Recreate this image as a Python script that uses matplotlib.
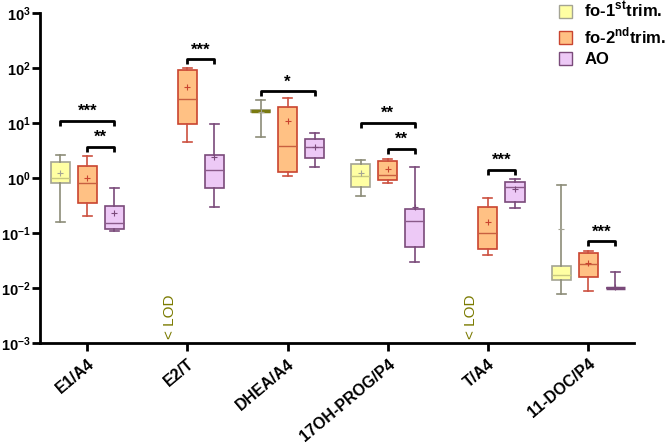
import matplotlib
matplotlib.use("Agg")
import matplotlib.pyplot as plt
from matplotlib.patches import Patch

plt.rcParams['font.family'] = ['Liberation Sans', 'DejaVu Sans']
plt.rcParams['mathtext.fontset'] = 'custom'
plt.rcParams['mathtext.rm'] = 'Liberation Sans'
plt.rcParams['mathtext.bf'] = 'Liberation Sans:bold'

categories = ['E1/A4', 'E2/T', 'DHEA/A4', '17OH-PROG/P4', 'T/A4', '11-DOC/P4']
group_labels = [r'fo-1$^{\mathbf{st}}$trim.', r'fo-2$^{\mathbf{nd}}$trim.', 'AO']

# (whislo, q1, med, q3, whishi, mean)
fo1 = [
    (0.16, 0.81, 1.0, 1.95, 2.6, 1.23),
    None,
    (5.6, 16.0, 16.5, 17.0, 26.0, 16.0),
    (0.47, 0.69, 1.1, 1.8, 2.1, 1.23),
    None,
    (0.0078, 0.014, 0.017, 0.025, 0.74, 0.12),
]
fo2 = [
    (0.20, 0.35, 0.81, 1.65, 2.5, 1.0),
    (4.5, 9.6, 27.0, 92.0, 100.0, 45.0),
    (1.1, 1.3, 3.8, 19.5, 28.0, 11.0),
    (0.81, 0.93, 1.13, 2.0, 2.2, 1.45),
    (0.04, 0.051, 0.10, 0.30, 0.43, 0.16),
    (0.0089, 0.016, 0.027, 0.043, 0.047, 0.029),
]
ao = [
    (0.11, 0.12, 0.15, 0.31, 0.65, 0.23),
    (0.30, 0.66, 1.4, 2.6, 9.6, 2.4),
    (1.6, 2.3, 3.7, 5.1, 6.6, 3.7),
    (0.030, 0.056, 0.166, 0.27, 1.6, 0.30),
    (0.28, 0.36, 0.68, 0.85, 0.96, 0.63),
    (0.010, 0.010, 0.010, 0.010, 0.0195, 0.0105),
]

# (category, group from, group to, bracket level, label)
significance = [
    (0, 0, 2, 11.0, '***'),
    (0, 1, 2, 3.7, '**'),
    (1, 1, 2, 145.0, '***'),
    (2, 0, 2, 38.0, '*'),
    (3, 0, 2, 10.0, '**'),
    (3, 1, 2, 3.4, '**'),
    (4, 1, 2, 1.4, '***'),
    (5, 1, 2, 0.071, '***'),
]
lod_categories = [1, 4]

fills = ['#FFFFA3', '#FFC184', '#EDC9F6']
edges = ['#A4A494', '#C9442F', '#7A4A7A']
whisk = ['#8C8C78', '#CC5040', '#7A4A7A']
medc = ['#C8C880', '#C86040', '#8A5A8A']
offsets = [-0.27, 0.0, 0.27]
width = 0.19

fig = plt.figure(figsize=(6.69, 4.44), dpi=100)
ax = fig.add_axes([0.06, 0.2275, 0.888, 0.743])

for g, data in enumerate([fo1, fo2, ao]):
    for i, d in enumerate(data):
        if d is None:
            continue
        st = dict(whislo=d[0], q1=d[1], med=d[2], q3=d[3], whishi=d[4], mean=d[5], fliers=[])
        mc = medc[g]
        mlw = 1.0
        if d[1] == d[3] or (g == 0 and i == 2):
            mc = '#7A7A10' if g == 0 else edges[g]
            mlw = 2.5
        ax.bxp([st], positions=[i + offsets[g]], widths=width, patch_artist=True,
               showmeans=True, capwidths=[0.09],
               boxprops=dict(facecolor=fills[g], edgecolor=edges[g], linewidth=1.2),
               whiskerprops=dict(color=whisk[g], linewidth=1.2),
               capprops=dict(color=whisk[g], linewidth=1.2),
               medianprops=dict(color=mc, linewidth=mlw),
               meanprops=dict(marker='+', markeredgecolor=edges[g], markersize=4,
                              markeredgewidth=0.8))

for (c, g1, g2, y, lab) in significance:
    x1 = c + offsets[g1]
    x2 = c + offsets[g2]
    yd = y * 0.81
    ax.plot([x1, x1, x2, x2], [yd, y, y, yd], color='black', lw=2, solid_capstyle='butt')
    ax.text((x1 + x2) / 2, y * 1.08, lab, ha='center', va='bottom', fontsize=12,
            fontweight='bold')

for c in lod_categories:
    ax.text(c - 0.17, 0.00118, '< LOD', rotation=90, ha='center', va='bottom',
            fontsize=11, color='#7A7A00')

ax.set_yscale('log')
ax.set_ylim(1e-3, 1e3)
ax.set_xlim(-0.47, 5.46)
yt = [1e-3, 1e-2, 1e-1, 1e0, 1e1, 1e2, 1e3]
ax.set_yticks(yt)
ax.set_yticklabels([r'$\mathbf{10^{%d}}$' % e for e in range(-3, 4)], fontsize=10.5)
ax.minorticks_off()
ax.set_xticks(range(len(categories)))
ax.set_xticklabels(categories, rotation=40, ha='right', rotation_mode='anchor',
                   fontsize=11.5, fontweight='bold')
ax.tick_params(axis='both', width=2, length=6, direction='out')
ax.tick_params(axis='y', pad=1)
for s in ['top', 'right']:
    ax.spines[s].set_visible(False)
for s in ['left', 'bottom']:
    ax.spines[s].set_linewidth(2)

handles = [Patch(facecolor=fills[g], edgecolor=edges[g], linewidth=1.0) for g in range(3)]
leg = ax.legend(handles, group_labels, loc='upper left', bbox_to_anchor=(0.868, 1.05),
                frameon=False, prop=dict(size=12, weight='bold'), handlelength=0.8,
                handleheight=0.8, handletextpad=0.7, labelspacing=0.34,
                borderaxespad=0.0, borderpad=0.2)
fig.savefig('out.png', dpi=100)
